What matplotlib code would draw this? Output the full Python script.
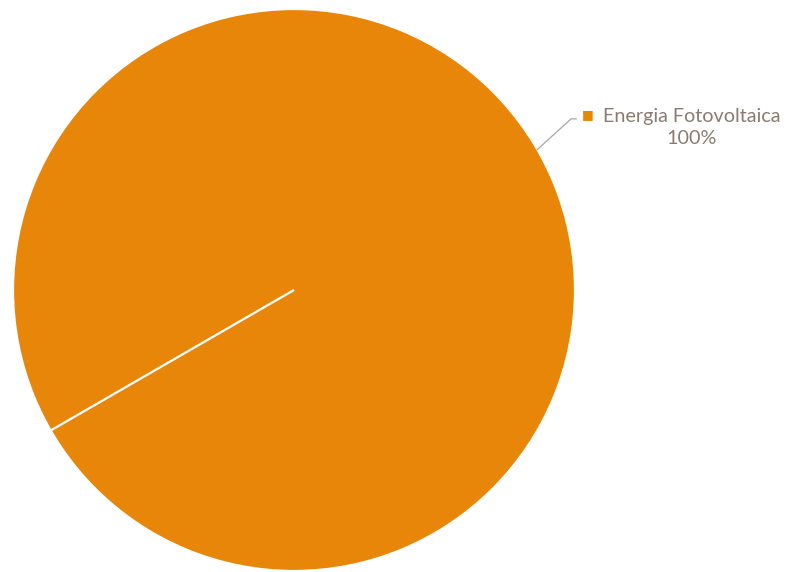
import numpy as np
import matplotlib
matplotlib.use('Agg')
import matplotlib.pyplot as plt

# Data
categories = ['Energia Fotovoltaica', 'Outras']
values = [100, 0]
pct_labels = ['100%', '0%']

orange = '#E8860A'
text_color = '#8C7B70'

plt.rcParams['font.family'] = ['Lato', 'DejaVu Sans']

fig = plt.figure(figsize=(7.87, 5.72), dpi=100)
fig.patch.set_facecolor('white')

# Pie axes: centre (294, 290) px, radius 281 px
ax = fig.add_axes([13 / 787, 1 / 572, 562 / 787, 562 / 572])
wedges, _ = ax.pie(values, colors=[orange, orange], startangle=210, counterclock=False,
                   radius=1.0, wedgeprops=dict(edgecolor='white', linewidth=1.6))
ax.set_xlim(-1, 1)
ax.set_ylim(-1, 1)
ax.set_aspect('equal')
ax.axis('off')

# Data label with leader line for the main slice
w = wedges[0]
mid = np.deg2rad((w.theta1 + w.theta2) / 2)
x0, y0 = np.cos(mid), np.sin(mid)
ax.plot([x0, 0.986, 1.004], [y0, 0.609, 0.609], color='#A6A6A6', lw=0.9, clip_on=False)
ax.text(1.046, 0.626, '\u25A0', color=orange, fontsize=9, ha='center', va='center')
ax.text(1.416, 0.578, categories[0] + '\n' + pct_labels[0], color=text_color, fontsize=14.2,
        ha='center', va='center', multialignment='center', linespacing=1.35)

fig.savefig('out.png', dpi=100)
